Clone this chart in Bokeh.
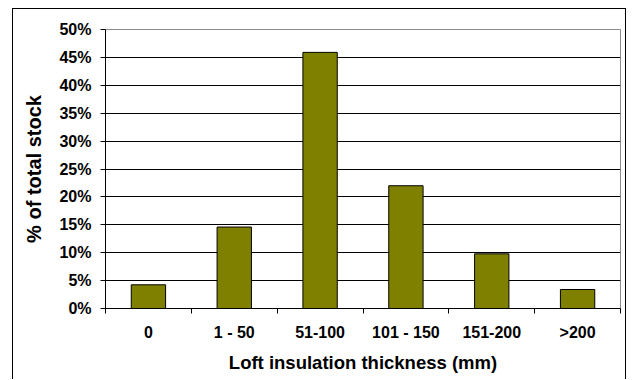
from bokeh.plotting import figure
from bokeh.models import Range1d, FixedTicker, NumeralTickFormatter, ColumnDataSource
from bokeh.embed import file_html
from bokeh.resources import INLINE

# Share of housing stock by loft insulation thickness band
categories = ["0", "1 - 50", "51-100", "101 - 150", "151-200", ">200"]
share = [0.0425, 0.146, 0.459, 0.220, 0.098, 0.034]
y_ticks = [0.0, 0.05, 0.10, 0.15, 0.20, 0.25, 0.30, 0.35, 0.40, 0.45, 0.50]

FONT = "Liberation Sans"

positions = list(range(len(categories)))
source = ColumnDataSource(data=dict(x=positions, top=share, label=categories))

p = figure(width=614, height=371, output_backend="svg", toolbar_location=None,
           x_range=Range1d(-0.5, len(categories) - 0.5), y_range=Range1d(0, 0.5),
           min_border_left=92, min_border_right=7, min_border_top=20,
           min_border_bottom=72)
# chart area border drawn around the canvas
p.styles = {"position": "absolute", "left": "12px", "top": "8px",
            "border-left": "1px solid black", "border-top": "1px solid black",
            "border-right": "1px solid black"}
p.background_fill_color = "white"
p.border_fill_color = "white"
p.outline_line_color = "#8c8c8c"
p.outline_line_width = 1

p.vbar(x="x", top="top", width=0.4, bottom=0, source=source,
       fill_color="#808000", line_color="black", line_width=1)

# x axis: labels at category centres, tick marks at category boundaries
bounds = [i - 0.5 for i in range(len(categories) + 1)]
p.xaxis.ticker = FixedTicker(ticks=positions, minor_ticks=bounds)
p.xaxis.major_label_overrides = {i: c for i, c in enumerate(categories)}
p.xaxis.major_tick_out = 0
p.xaxis.major_tick_in = 0
p.xaxis.minor_tick_out = 5
p.xaxis.minor_tick_in = 0
p.xaxis.minor_tick_line_color = "black"
p.xaxis.axis_line_color = "black"
p.xaxis.major_label_standoff = 10
p.xaxis.axis_label = "Loft insulation thickness (mm)"
p.xaxis.axis_label_standoff = 8
p.xaxis.axis_label_text_font_size = "18.5px"
p.xgrid.grid_line_color = None

# y axis: percentage scale
p.yaxis.ticker = FixedTicker(ticks=y_ticks)
p.yaxis.formatter = NumeralTickFormatter(format="0%")
p.yaxis.major_tick_out = 5
p.yaxis.major_tick_in = 0
p.yaxis.minor_tick_line_color = None
p.yaxis.major_tick_line_color = "black"
p.yaxis.axis_line_color = "black"
p.yaxis.major_label_standoff = 9
p.yaxis.axis_label = "% of total stock"
p.yaxis.axis_label_standoff = 11
p.yaxis.axis_label_text_font_size = "20px"
# black gridlines below the top edge, which keeps the grey frame outline
p.ygrid.ticker = FixedTicker(ticks=y_ticks[:-1])
p.ygrid.grid_line_color = "black"
p.ygrid.grid_line_width = 1

for ax in (p.xaxis, p.yaxis):
    ax.major_label_text_font = FONT
    ax.major_label_text_font_style = "bold"
    ax.major_label_text_font_size = "16px"
    ax.major_label_text_color = "black"
    ax.axis_label_text_font = FONT
    ax.axis_label_text_font_style = "bold"
    ax.axis_label_text_color = "black"

open("out.html", "w").write(file_html(p, INLINE))
